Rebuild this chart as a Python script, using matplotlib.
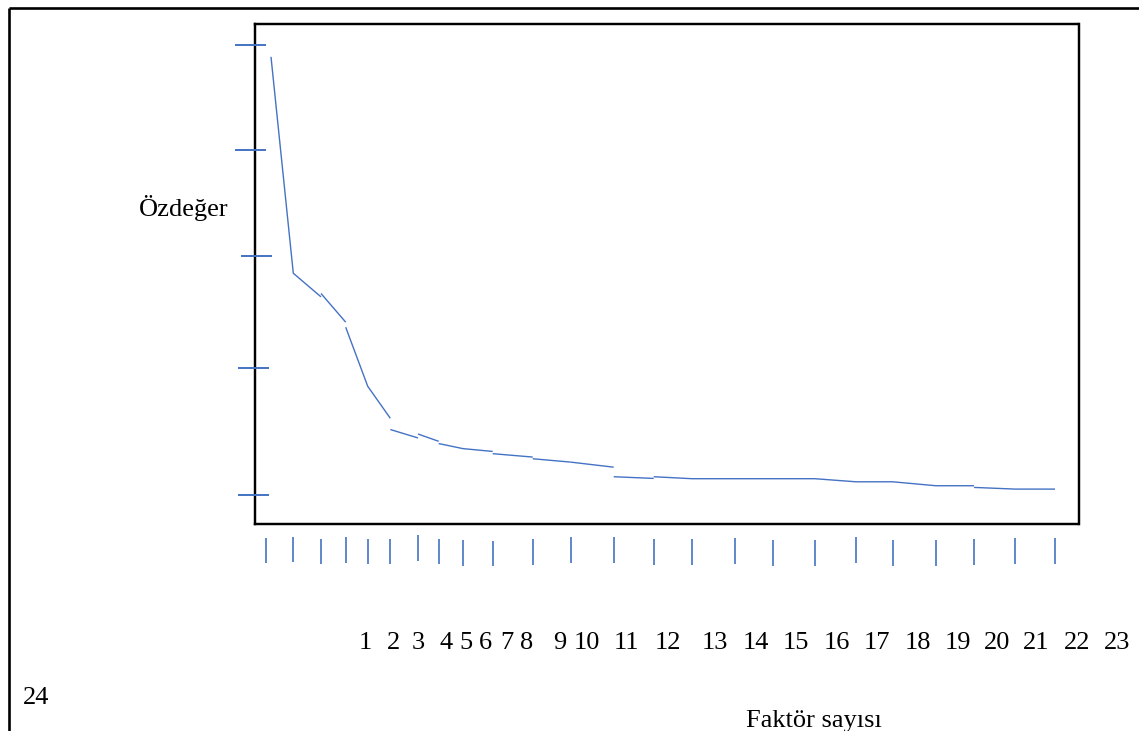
import matplotlib
matplotlib.use("Agg")
import matplotlib.pyplot as plt

# factor positions along the drawn x axis (same units as the canvas)
factor_x = [265.7, 293.3, 321.0, 345.7, 367.7, 390.3, 418.0, 438.7, 463.0, 492.7,
            532.7, 570.7, 613.7, 653.7, 692.0, 734.7, 773.0, 814.7, 856.0, 892.7,
            935.7, 974.0, 1015.3, 1055.0]
factor_labels = [str(i) for i in range(1, 25)]

# the scree line is drawn in broken pieces: (first factor, eigenvalues)
eigen_pieces = [
    (1, [7.79, 3.94, 3.52]),
    (3, [3.58, 3.07]),
    (4, [2.98, 1.93, 1.36]),
    (6, [1.16, 1.01]),
    (7, [1.08, 0.95]),
    (8, [0.91, 0.82, 0.77]),
    (10, [0.73, 0.67]),
    (11, [0.64, 0.58]),
    (12, [0.58, 0.49]),
    (13, [0.32, 0.29]),
    (14, [0.32, 0.285, 0.285, 0.285, 0.285, 0.23, 0.23, 0.16, 0.16]),
    (22, [0.13, 0.10, 0.10]),
]

# hand drawn y tick marks (eigenvalue)
ytick_vals = [8.0, 6.13, 4.24, 2.25, 0.0]

# layout bits
line_shift = [5.3] + [0.0] * 23   # first point of the line sits a bit right of its tick
ytick_x0 = [235.0, 235.0, 240.7, 238.0, 238.0]
ytick_x1 = [265.7, 265.7, 271.7, 269.0, 269.0]
xtick_top = [537.7, 536.7, 538.7, 537.3, 538.7, 538.7, 535.3, 538.7, 540.0, 540.7,
             539.0, 537.3, 537.3, 539.0, 539.0, 538.3, 540.0, 540.0, 537.0, 540.0,
             540.0, 539.0, 538.3, 538.3]
label_x = [365.1, 393.0, 418.5, 445.8, 465.5, 485.2, 507.3, 527.0, 559.5, 587.3,
           626.7, 667.9, 714.9, 755.5, 795.5, 836.7, 877.3, 918.0, 958.0, 997.4,
           1036.3, 1076.9, 1117.5]

W, H = 1139, 731
blue = "#4472C4"
serif = "Liberation Serif"
fs = 19

fig = plt.figure(figsize=(W / 100, H / 100), dpi=100)

canvas = fig.add_axes([0, 0, 1, 1])
canvas.set_xlim(0, W)
canvas.set_ylim(H, 0)
canvas.axis("off")

# outer frame (top and left only are visible)
canvas.plot([9.3, W], [7.7, 7.7], color="black", lw=1.9, solid_capstyle="butt")
canvas.plot([9.3, 9.3], [7.7, H], color="black", lw=1.9, solid_capstyle="butt")

# inner plot box
bx0, bx1, by0, by1 = 254.5, 1078.5, 24.3, 523.5
ax = fig.add_axes([bx0 / W, 1 - by1 / H, (bx1 - bx0) / W, (by1 - by0) / H])
ax.patch.set_visible(False)
ax.set_xlim(bx0, bx1)
ax.set_ylim(-0.512, 8.369)
ax.set_xticks([])
ax.set_yticks([])
for s in ax.spines.values():
    s.set_linewidth(1.75)
    s.set_color("black")

for first, vals in eigen_pieces:
    idx = range(first - 1, first - 1 + len(vals))
    xs = [factor_x[i] + line_shift[i] for i in idx]
    ax.plot(xs, vals, color=blue, lw=1.0, solid_capstyle="butt")

ax.hlines(ytick_vals, ytick_x0, ytick_x1, color=blue, lw=1.4, clip_on=False, zorder=3)

# x tick marks below the box
canvas.vlines(factor_x, xtick_top, [t + 25.6 for t in xtick_top], color=blue, lw=1.4, alpha=0.85)

# texts
canvas.text(139.3, 216, "Özdeğer", family=serif, fontsize=fs, ha="left", va="baseline")
for x, lab in zip(label_x, factor_labels[:-1]):
    canvas.text(x, 649, lab, family=serif, fontsize=fs, ha="center", va="baseline")
canvas.text(23, 704, factor_labels[-1], family=serif, fontsize=fs, ha="left", va="baseline")
canvas.text(746, 727.5, "Faktör sayısı", family=serif, fontsize=fs, ha="left", va="baseline")

fig.savefig("out.png", dpi=100)
